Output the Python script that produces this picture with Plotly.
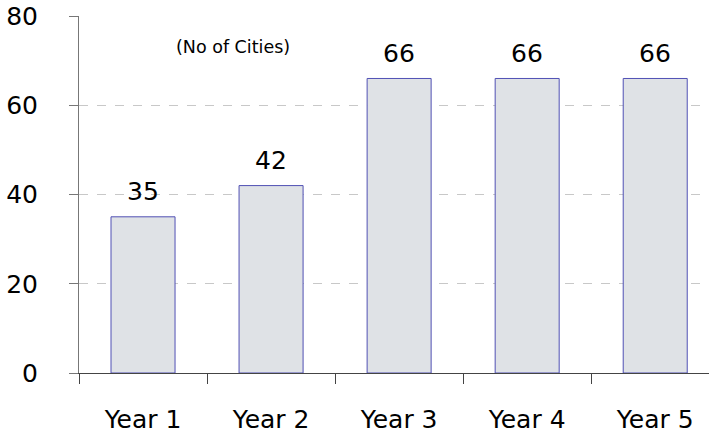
import plotly.graph_objects as go

categories = ["Year 1", "Year 2", "Year 3", "Year 4", "Year 5"]
values = [35, 42, 66, 66, 66]
y_ticks = [0, 20, 40, 60, 80]
note_text = "(No of Cities)"

xpos = list(range(len(categories)))
bounds = [i - 0.5 for i in range(len(categories) + 1)]
xr = [-0.5, 4.42]

fig = go.Figure()
fig.add_trace(go.Bar(
    x=xpos, y=values, width=0.5,
    marker=dict(color="#DFE2E6", line=dict(color="#5050B4", width=1)),
    hoverinfo="skip",
))
# invisible trace for boundary-tick axis
fig.add_trace(go.Scatter(x=[xr[0]], y=[0], xaxis="x2", mode="markers",
                         marker=dict(opacity=0), hoverinfo="skip", showlegend=False))

for x, v in zip(xpos, values):
    fig.add_annotation(x=x, y=v, text=str(v), showarrow=False, yanchor="middle",
                       yshift=25, font=dict(size=25, color="#000"))

fig.add_annotation(x=0.70, y=73.1, text=note_text, showarrow=False,
                   font=dict(size=17.5, color="#000"))

font_family = "DejaVu Sans"
fig.update_layout(
    width=710, height=433,
    margin=dict(l=79, r=1, t=16, b=60),
    paper_bgcolor="white", plot_bgcolor="white",
    showlegend=False,
    font=dict(family=font_family, color="#000"),
    xaxis=dict(range=xr, tickvals=xpos, ticktext=categories, ticks="",
               showline=True, linecolor="#444", linewidth=1, showgrid=False,
               zeroline=False, tickfont=dict(size=25), ticklabelstandoff=24,
               automargin=False),
    xaxis2=dict(range=xr, overlaying="x", side="bottom", tickvals=bounds,
                showticklabels=False, ticks="outside", ticklen=10,
                tickcolor="#444", showline=False, showgrid=False, zeroline=False,
                automargin=False),
    yaxis=dict(range=[0, 80], tickvals=y_ticks, ticks="outside", ticklen=9,
               tickcolor="#777", showline=True, linecolor="#777", linewidth=1,
               showgrid=True, gridcolor="#C8C8C8", griddash="dash",
               zeroline=False, tickfont=dict(size=25), ticklabelstandoff=26,
               automargin=False),
)

fig.write_html("out.html", config={"displayModeBar": False},
               post_script="document.body.style.margin='0';document.body.style.overflow='hidden';")
